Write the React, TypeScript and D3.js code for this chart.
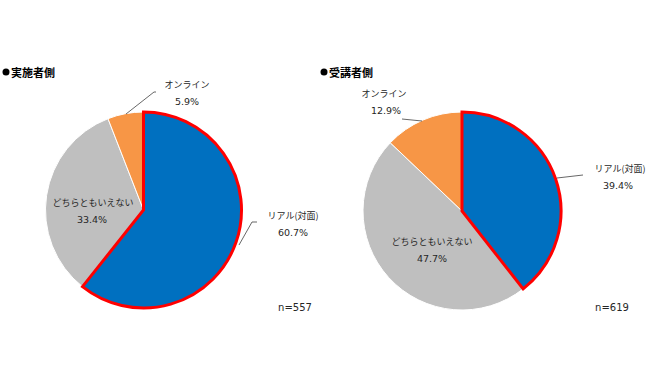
import React from "react";
import * as d3 from "d3";

const categories = ["リアル(対面)", "どちらともいえない", "オンライン"];
const colors = ["#0070C0", "#BFBFBF", "#F79646"];
const titles = ["実施者側", "受講者側"];
const sampleSizes = ["n=557", "n=619"];
const implementerValues = [60.7, 33.4, 5.9];
const learnerValues = [39.4, 47.7, 12.9];

const W = 650;
const H = 380;
const CJK = "'Noto Sans CJK JP', 'Noto Sans', sans-serif";
const NUM = "'DejaVu Sans', 'Noto Sans CJK JP', sans-serif";

type Layout = {
  cx: number;
  cy: number;
  r: number;
  titleX: number;
  nX: number;
  labels: { x: number; y: number; px: number; leader?: [number, number][] }[];
};

const layouts: Layout[] = [
  {
    cx: 143.5,
    cy: 210,
    r: 98,
    titleX: 2,
    nX: 295,
    labels: [
      { x: 293, y: 215, px: 293, leader: [[239, 245], [252, 222], [257, 222]] },
      { x: 93, y: 202, px: 92 },
      { x: 187, y: 84, px: 187, leader: [[126, 114], [154, 92], [156, 92]] },
    ],
  },
  {
    cx: 462,
    cy: 211,
    r: 99,
    titleX: 320,
    nX: 612,
    labels: [
      { x: 620, y: 168, px: 618, leader: [[557, 178], [583, 175]] },
      { x: 432, y: 241, px: 432 },
      { x: 384, y: 93, px: 386, leader: [[402, 119], [422, 121]] },
    ],
  },
];

const datasets = [implementerValues, learnerValues];

function Pie({ values, layout, title, n }: { values: number[]; layout: Layout; title: string; n: string }) {
  const pie = d3.pie<number>().sort(null).value((d) => d);
  const arcs = pie(values);
  const arc = d3.arc<d3.PieArcDatum<number>>().innerRadius(0).outerRadius(layout.r);
  const line = d3.line<[number, number]>();
  return (
    <g>
      <circle cx={layout.titleX + 4} cy={72} r={3.5} fill="#000" />
      <text x={layout.titleX + 9} y={72} dominantBaseline="central" fontSize={11} fontWeight="bold" fill="#000" fontFamily={CJK}>
        {title}
      </text>
      <g transform={`translate(${layout.cx},${layout.cy})`}>
        {arcs.map((a, i) =>
          i === 0 ? null : (
            <path key={i} d={arc(a) || ""} fill={colors[i]} stroke="#fff" strokeWidth={1} />
          )
        )}
        <path d={arc(arcs[0]) || ""} fill={colors[0]} stroke="#FF0000" strokeWidth={3} strokeLinejoin="miter" />
      </g>
      {layout.labels.map((l, i) => (
        <g key={i}>
          {l.leader && <path d={line(l.leader) || ""} fill="none" stroke="#404040" strokeWidth={0.8} />}
          <text x={l.x} y={l.y} dominantBaseline="central" textAnchor="middle" fontSize={9} fill="#262626" fontFamily={CJK}>
            {categories[i]}
          </text>
          <text x={l.px} y={l.y + 17} dominantBaseline="central" textAnchor="middle" fontSize={9.5} fill="#262626" fontFamily={NUM}>
            {d3.format(".1f")(values[i])}%
          </text>
        </g>
      ))}
      <text x={layout.nX} y={307} dominantBaseline="central" textAnchor="middle" fontSize={10} fill="#262626" fontFamily={NUM}>
        {n}
      </text>
    </g>
  );
}

export default function App() {
  return (
    <svg width={W} height={H} style={{ position: "absolute", left: 0, top: 0, background: "#fff" }}>
      <rect width={W} height={H} fill="#fff" />
      {datasets.map((v, i) => (
        <Pie key={i} values={v} layout={layouts[i]} title={titles[i]} n={sampleSizes[i]} />
      ))}
    </svg>
  );
}
